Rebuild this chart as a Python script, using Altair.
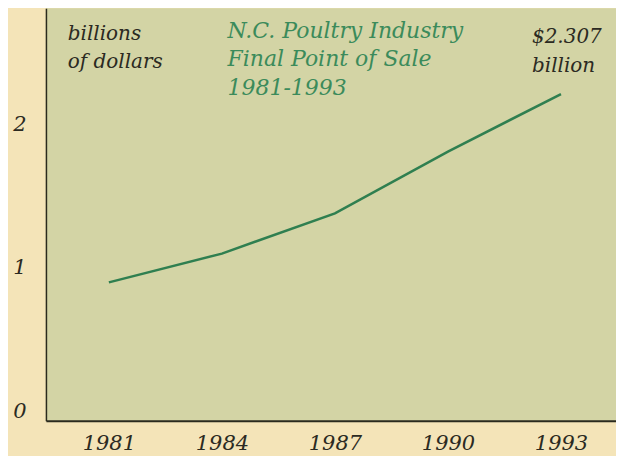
import altair as alt
import pandas as pd

years = [1981, 1984, 1987, 1990, 1993]
values = [0.90, 1.10, 1.38, 1.81, 2.21]

tick_values = [0, 1, 2]
x_ticks = [1981, 1984, 1987, 1990, 1993]

unit_label = ["billions", "of dollars"]
title_lines = ["N.C. Poultry Industry", "Final Point of Sale", "1981-1993"]
end_label = ["$2.307", "billion"]

FONT = "DejaVu Serif"
BG = "#f4e4b8"
PLOT_BG = "#d3d4a5"
LINE = "#2f7f50"
TITLE_C = "#3b8b5b"
TEXT_C = "#2b2a22"

xscale = alt.Scale(domain=[1979.33, 1994.46], nice=False, zero=False)
yscale = alt.Scale(domain=[-0.0625, 2.806], nice=False, zero=False)

df = pd.DataFrame({"year": years, "value": values})

line = alt.Chart(df).mark_line(color=LINE, strokeWidth=2.5).encode(
    x=alt.X("year:Q", scale=xscale,
            axis=alt.Axis(values=x_ticks, format="d", title=None, grid=False,
                          ticks=False, domainColor="#2a2a1e", domainWidth=2,
                          labelFont=FONT, labelFontStyle="italic", labelFontSize=21,
                          labelColor=TEXT_C, labelPadding=12)),
    y=alt.Y("value:Q", scale=yscale,
            axis=alt.Axis(values=tick_values, format="d", title=None, grid=False,
                          ticks=False, domainColor="#2a2a1e", domainWidth=1.5,
                          labelFont=FONT, labelFontStyle="italic", labelFontSize=21,
                          labelColor=TEXT_C, labelPadding=20)),
)

unit_df = pd.DataFrame({"x": [1979.91, 1979.91], "y": [2.63, 2.43], "t": unit_label})
unit = alt.Chart(unit_df).mark_text(
    font=FONT, fontStyle="italic", fontSize=20, color=TEXT_C,
    align="left", baseline="middle"
).encode(x=alt.X("x:Q", scale=xscale), y=alt.Y("y:Q", scale=yscale), text="t:N")

title_df = pd.DataFrame({"x": [1984.15] * 3, "y": [2.65, 2.455, 2.255], "t": title_lines})
title = alt.Chart(title_df).mark_text(
    font=FONT, fontStyle="italic", fontSize=22, color=TITLE_C,
    align="left", baseline="middle"
).encode(x=alt.X("x:Q", scale=xscale), y=alt.Y("y:Q", scale=yscale), text="t:N")

end_df = pd.DataFrame({"x": [1992.23] * 2, "y": [2.604, 2.403], "t": end_label})
end = alt.Chart(end_df).mark_text(
    font=FONT, fontStyle="italic", fontSize=20, color=TEXT_C,
    align="left", baseline="middle"
).encode(x=alt.X("x:Q", scale=xscale), y=alt.Y("y:Q", scale=yscale), text="t:N")

chart = alt.layer(line, unit, title, end).properties(
    width=571, height=413,
    background=BG,
    padding={"left": 38, "top": 0, "right": 0, "bottom": 35},
    autosize=alt.AutoSizeParams(type="none"),
).configure_view(fill=PLOT_BG, stroke=None)

chart.save("out.html", embed_options={"renderer": "svg", "actions": False})
